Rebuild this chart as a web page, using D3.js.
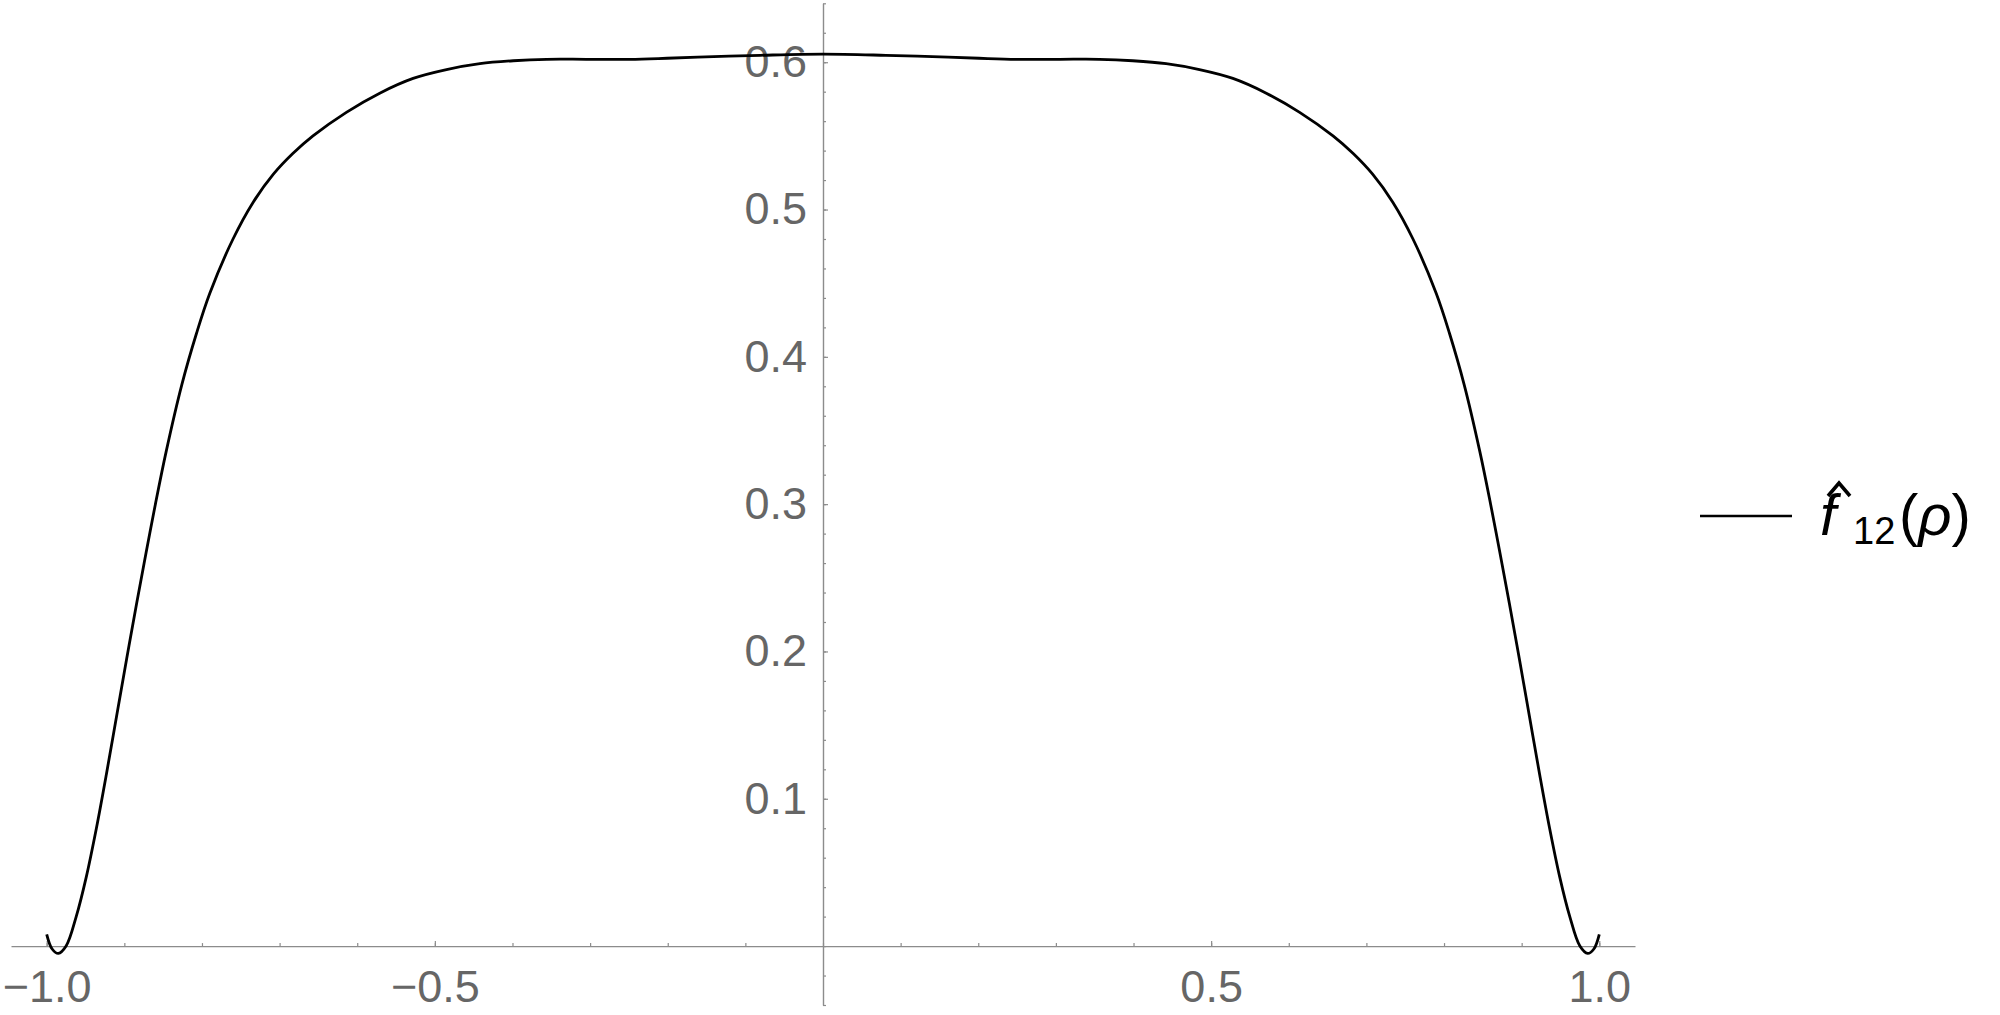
<!DOCTYPE html>
<meta charset="utf-8">
<script src="https://d3js.org/d3.v7.min.js"></script>
<style>
  body { margin: 0; background: #fff; }
  .tick text { font-family: "Liberation Sans", Arial, sans-serif; font-size: 45px; fill: #666; }
</style>
<div id="chart"></div>
<script>
// values
const rho = [-1.000, -0.993, -0.985, -0.975, -0.962, -0.949, -0.936, -0.923, -0.910, -0.897,
  -0.884, -0.872, -0.860, -0.846, -0.826, -0.807, -0.790, -0.760, -0.734, -0.708,
  -0.683, -0.657, -0.614, -0.571, -0.528, -0.485, -0.442, -0.399, -0.356, -0.305,
  -0.249, -0.201, -0.141, -0.081, 0.000,
  0.081, 0.141, 0.201, 0.249, 0.305, 0.356, 0.399, 0.442, 0.485, 0.528,
  0.571, 0.614, 0.657, 0.683, 0.708, 0.734, 0.760, 0.790, 0.807, 0.826,
  0.846, 0.860, 0.872, 0.884, 0.897, 0.910, 0.923, 0.936, 0.949, 0.962,
  0.975, 0.985, 0.993, 1.000];
const f12 = [0.008, -0.002, -0.005, 0.000, 0.020, 0.047, 0.080, 0.117, 0.156, 0.195,
  0.233, 0.267, 0.300, 0.336, 0.381, 0.416, 0.443, 0.480, 0.505, 0.524,
  0.538, 0.550, 0.566, 0.579, 0.589, 0.595, 0.599, 0.601, 0.602, 0.602,
  0.602, 0.6027, 0.6038, 0.6047, 0.6055,
  0.6047, 0.6038, 0.6027, 0.602, 0.602, 0.602, 0.601, 0.599, 0.595, 0.589,
  0.579, 0.566, 0.550, 0.538, 0.524, 0.505, 0.480, 0.443, 0.416, 0.381,
  0.336, 0.300, 0.267, 0.233, 0.195, 0.156, 0.117, 0.080, 0.047, 0.020,
  0.000, -0.005, -0.002, 0.008];

const xTickValues = [-1, -0.5, 0.5, 1];
const xTickLabels = ["\u22121.0", "\u22120.5", "0.5", "1.0"];
const yTickValues = [0.1, 0.2, 0.3, 0.4, 0.5, 0.6];
const yTickLabels = ["0.1", "0.2", "0.3", "0.4", "0.5", "0.6"];

const width = 2000, height = 1015;
const axisColor = "#8c8c8c";

const svg = d3.select("#chart").append("svg")
  .attr("width", width)
  .attr("height", height);

const x = d3.scaleLinear().domain([-1.046, 1.046]).range([11, 1635]);
const y = d3.scaleLinear().domain([-0.04, 0.64]).range([1005, 3.3]);

// minor ticks first
const xMinor = d3.range(-10, 11).map(i => i / 10);
const yMinor = d3.range(-2, 33).map(i => i / 50);

svg.append("g")
  .attr("transform", `translate(0, ${y(0)})`)
  .call(d3.axisBottom(x).tickValues(xMinor).tickSize(-3).tickSizeOuter(0).tickFormat(""))
  .call(g => g.select(".domain").remove());

svg.append("g")
  .attr("transform", `translate(${x(0)}, 0)`)
  .call(d3.axisLeft(y).tickValues(yMinor).tickSize(-3).tickSizeOuter(0).tickFormat(""))
  .call(g => g.select(".domain").remove());

// main axes
svg.append("g")
  .attr("transform", `translate(0, ${y(0)})`)
  .call(d3.axisBottom(x).tickValues(xTickValues).tickSize(-5).tickSizeOuter(0)
    .tickPadding(24).tickFormat((d, i) => xTickLabels[i]));

svg.append("g")
  .attr("transform", `translate(${x(0)}, 0)`)
  .call(d3.axisLeft(y).tickValues(yTickValues).tickSize(-5).tickSizeOuter(0)
    .tickPadding(16).tickFormat((d, i) => yTickLabels[i]));

svg.selectAll(".domain").attr("stroke", axisColor).attr("stroke-width", 1.4);
svg.selectAll(".tick line").attr("stroke", axisColor).attr("stroke-width", 1.2);

// the curve
const pts = rho.map((r, i) => [r, f12[i]]);
const line = d3.line()
  .x(d => x(d[0]))
  .y(d => y(d[1]))
  .curve(d3.curveCatmullRom.alpha(0.5));

svg.append("path")
  .datum(pts)
  .attr("fill", "none")
  .attr("stroke", "#000")
  .attr("stroke-width", 2.8)
  .attr("stroke-linejoin", "round")
  .attr("d", line);

// legend
svg.append("line")
  .attr("x1", 1700).attr("x2", 1792)
  .attr("y1", 516).attr("y2", 516)
  .attr("stroke", "#000")
  .attr("stroke-width", 2.6);

const lg = svg.append("g")
  .style("font-family", "'Liberation Sans', Arial, sans-serif")
  .attr("fill", "#000");

lg.append("text")
  .attr("x", 1820).attr("y", 535)
  .style("font-size", "58px").style("font-style", "italic")
  .text("f");

// the hat over f
lg.append("path")
  .attr("d", "M1828,496 L1839,483 L1850,496")
  .attr("fill", "none")
  .attr("stroke", "#000")
  .attr("stroke-width", 3.6)
  .attr("stroke-linejoin", "miter");

lg.append("text")
  .attr("x", 1853).attr("y", 544)
  .style("font-size", "38px")
  .text("12");

const par = lg.append("text")
  .attr("x", 1899).attr("y", 535)
  .style("font-size", "58px");
par.append("tspan").text("(");
par.append("tspan").style("font-style", "italic").text("\u03C1");
par.append("tspan").text(")");
</script>
